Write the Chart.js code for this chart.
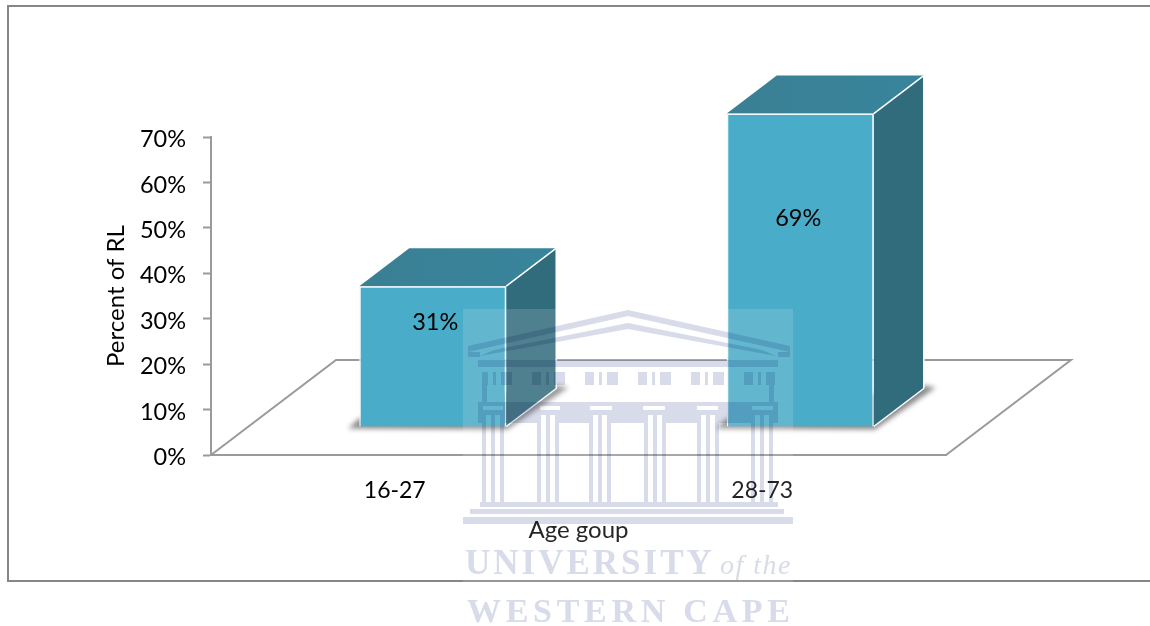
<!DOCTYPE html>
<html>
<head>
<meta charset="utf-8">
<title>Percent of RL by age group</title>
<script src="https://cdn.jsdelivr.net/npm/chart.js@4/dist/chart.umd.min.js"></script>
<style>
  html, body { margin: 0; padding: 0; background: #fff; }
  canvas { display: block; }
</style>
</head>
<body>
<canvas id="rlChart" width="1150" height="626"></canvas>
<script>
const categories = ['16-27', '28-73'];
const percentRL = [31, 69];
const tickLabels = ['0%', '10%', '20%', '30%', '40%', '50%', '60%', '70%'];
const barLabels = ['31%', '69%'];

const FONT = 'Lato, Carlito, sans-serif';
const AXIS_GREY = '#9a9a9a';
const FLOOR = { dx: 125, dy: -95 };     // floor depth
const FRONT = { dx: 38, dy: -28 };      // how far the bars stand back from the axis plane
const BAR = { dx: 50, dy: -38 };        // bar depth
const LABEL_DROP = [36, 105];           // label distance below the bar top
const LABEL_SHIFT = [2.5, -2];

function poly (ctx, pts) {
  ctx.beginPath();
  pts.forEach((p, i) => i ? ctx.lineTo(p[0], p[1]) : ctx.moveTo(p[0], p[1]));
  ctx.closePath();
}

// outer frame, open on the right like the source image
const framePlugin = {
  id: 'frame',
  beforeDraw (chart) {
    const ctx = chart.ctx;
    ctx.save();
    ctx.fillStyle = '#fff';
    ctx.fillRect(0, 0, chart.width, chart.height);
    ctx.strokeStyle = '#868686';
    ctx.lineWidth = 2;
    ctx.beginPath();
    ctx.moveTo(chart.width, 6);
    ctx.lineTo(8, 6);
    ctx.lineTo(8, 581);
    ctx.lineTo(chart.width, 581);
    ctx.stroke();
    ctx.restore();
  }
};

// floor, shadows and the side and top faces; front faces are the real bars
const box3dPlugin = {
  id: 'box3d',
  beforeDatasetsDraw (chart) {
    const ctx = chart.ctx;
    const area = chart.chartArea;
    ctx.save();
    ctx.strokeStyle = AXIS_GREY;
    ctx.lineWidth = 2;
    ctx.beginPath();
    ctx.moveTo(area.left, area.bottom);
    ctx.lineTo(area.left + FLOOR.dx, area.bottom + FLOOR.dy);
    ctx.lineTo(area.right + FLOOR.dx, area.bottom + FLOOR.dy);
    ctx.lineTo(area.right, area.bottom);
    ctx.stroke();

    chart.getDatasetMeta(0).data.forEach(bar => {
      const x0 = bar.x - bar.width / 2 + FRONT.dx;
      const x1 = bar.x + bar.width / 2 + FRONT.dx;
      const top = bar.y + FRONT.dy;
      const base = bar.base + FRONT.dy;

      ctx.save();
      ctx.filter = 'blur(2.5px)';
      ctx.fillStyle = '#8a8a8a';
      poly(ctx, [[x0 - 11, base + 2], [x1 + 1, base + 3], [x1 + BAR.dx + 12, base + BAR.dy - 1],
        [x1 + BAR.dx, base + BAR.dy - 3], [x0, base - 8]]);
      ctx.fill();
      ctx.restore();

      ctx.strokeStyle = '#fff';
      ctx.lineWidth = 1.5;
      ctx.lineJoin = 'round';

      ctx.fillStyle = '#316c7d';
      poly(ctx, [[x1, top], [x1 + BAR.dx, top + BAR.dy], [x1 + BAR.dx, base + BAR.dy], [x1, base]]);
      ctx.fill();
      ctx.beginPath();
      ctx.moveTo(x1 + BAR.dx, top + BAR.dy);
      ctx.lineTo(x1 + BAR.dx, base + BAR.dy);
      ctx.lineTo(x1, base);
      ctx.stroke();

      const topFill = ctx.createLinearGradient(x0, 0, x1 + BAR.dx, 0);
      topFill.addColorStop(0, '#3a7f94');
      topFill.addColorStop(1, '#38859b');
      ctx.fillStyle = topFill;
      poly(ctx, [[x0, top], [x1, top], [x1 + BAR.dx, top + BAR.dy], [x0 + BAR.dx, top + BAR.dy]]);
      ctx.fill();
      ctx.beginPath();
      ctx.moveTo(x1, top);
      ctx.lineTo(x1 + BAR.dx, top + BAR.dy);
      ctx.stroke();
    });
    ctx.restore();

    // the library draws the front faces, moved back onto the floor
    ctx.save();
    ctx.translate(FRONT.dx, FRONT.dy);
  },
  afterDatasetsDraw (chart) {
    const ctx = chart.ctx;
    ctx.restore();

    ctx.save();
    ctx.fillStyle = '#000';
    ctx.font = '23.5px ' + FONT;
    ctx.textAlign = 'center';
    ctx.textBaseline = 'middle';
    chart.getDatasetMeta(0).data.forEach((bar, i) => {
      ctx.fillText(barLabels[i], bar.x + FRONT.dx + LABEL_SHIFT[i], bar.y + FRONT.dy + LABEL_DROP[i]);
    });
    ctx.restore();
  }
};

// fill a band except for the light gaps, so multiply never doubles up
function bandWithGaps (ctx, x0, x1, y, h, gaps) {
  let x = x0;
  gaps.forEach(g => {
    ctx.fillRect(x, y, g[0] - x, h);
    x = g[0] + g[1];
  });
  ctx.fillRect(x, y, x1 - x, h);
}

// the repository's watermark printed over the page
const watermarkPlugin = {
  id: 'watermark',
  afterDraw (chart) {
    const ctx = chart.ctx;
    const tint = '#d8dbea';
    const columns = [493, 548, 600, 655, 708, 762];
    ctx.save();
    ctx.fillStyle = 'rgba(255,255,255,0.14)';
    ctx.fillRect(463, 309, 330, 317);

    ctx.globalCompositeOperation = 'multiply';
    ctx.fillStyle = tint;

    // pediment: two roof bands running down into the cornice
    poly(ctx, [[468, 346], [628, 310], [790, 346], [790, 352], [628, 316], [468, 352]]);
    ctx.fill();
    poly(ctx, [[494, 350], [628, 323], [762, 350], [776, 356], [628, 329], [480, 356]]);
    ctx.fill();
    ctx.fillRect(468, 352, 12, 5);
    ctx.fillRect(778, 352, 12, 5);

    // entablature
    ctx.fillRect(478, 360, 300, 7);

    // frieze: triglyph bars and windows are the light gaps
    const friezeGaps = [];
    for (let k = 0; k < 6; k++) {
      friezeGaps.push([488 + 53 * k, 5], [496 + 53 * k, 5]);
      if (k < 5) friezeGaps.push([512 + 53 * k, 20]);
    }
    bandWithGaps(ctx, 482, 775, 372, 13, friezeGaps);
    ctx.fillRect(482, 385, 5, 17);
    ctx.fillRect(769, 385, 5, 17);

    // capitals band
    ctx.fillRect(478, 402, 300, 4);
    bandWithGaps(ctx, 478, 778, 406, 4, [[483, 20], [540, 20], [590, 22], [643, 22], [697, 21], [752, 21]]);
    ctx.fillRect(478, 410, 300, 5);
    const shaftGaps = [];
    columns.forEach(cx => shaftGaps.push([cx - 7, 5], [cx + 2, 5]));
    bandWithGaps(ctx, 478, 778, 415, 8, shaftGaps);

    // columns
    columns.forEach(cx => {
      [-11, -2, 7].forEach(off => ctx.fillRect(cx + off, 423, 4, 79));
    });

    // steps
    ctx.fillRect(480, 502, 298, 5);
    ctx.fillRect(470, 509, 314, 5);
    ctx.fillRect(463, 517, 330, 7);

    // name
    ctx.textBaseline = 'alphabetic';
    ctx.textAlign = 'left';
    ctx.font = 'bold 35px "Liberation Serif", serif';
    ctx.letterSpacing = '3px';
    ctx.fillText('UNIVERSITY', 465, 574);
    ctx.font = 'italic 28px "Liberation Serif", serif';
    ctx.letterSpacing = '1.5px';
    ctx.fillText('of the', 720, 574);
    ctx.font = 'bold 34px "Liberation Serif", serif';
    ctx.letterSpacing = '4.7px';
    ctx.fillText('WESTERN CAPE', 467, 622);
    ctx.restore();
  }
};

new Chart(document.getElementById('rlChart'), {
  type: 'bar',
  data: {
    labels: categories,
    datasets: [{
      data: percentRL,
      backgroundColor: '#49acc8',
      borderColor: '#f0f8fa',
      borderWidth: 1.5,
      categoryPercentage: 0.4,
      barPercentage: 1
    }]
  },
  options: {
    responsive: false,
    animation: false,
    layout: { padding: { left: 102, right: 204, top: 137, bottom: 81 } },
    plugins: { legend: { display: false }, tooltip: { enabled: false } },
    scales: {
      x: {
        afterFit: s => { s.height = 90; },
        grid: { display: false },
        border: { color: AXIS_GREY, width: 2 },
        ticks: { color: '#000', font: { family: FONT, size: 23 }, padding: 14, maxRotation: 0 },
        title: { display: true, text: 'Age goup', color: '#000', font: { family: FONT, size: 24 }, padding: { top: 10, bottom: 0 } }
      },
      y: {
        min: 0,
        max: 70,
        afterFit: s => { s.width = 109; },
        grid: { drawOnChartArea: false, tickLength: 8, tickColor: AXIS_GREY, tickWidth: 2 },
        border: { color: AXIS_GREY, width: 2 },
        ticks: {
          stepSize: 10,
          autoSkip: false,
          color: '#000',
          font: { family: FONT, size: 23.5, lineHeight: '5px' },
          padding: 17,
          // empty first line nudges the text down to sit level with the tick
          callback: (value, i) => ['', tickLabels[i]]
        },
        title: { display: true, text: 'Percent of RL', color: '#000', font: { family: FONT, size: 24 }, padding: 0 }
      }
    }
  },
  plugins: [framePlugin, box3dPlugin, watermarkPlugin]
});
</script>
</body>
</html>
